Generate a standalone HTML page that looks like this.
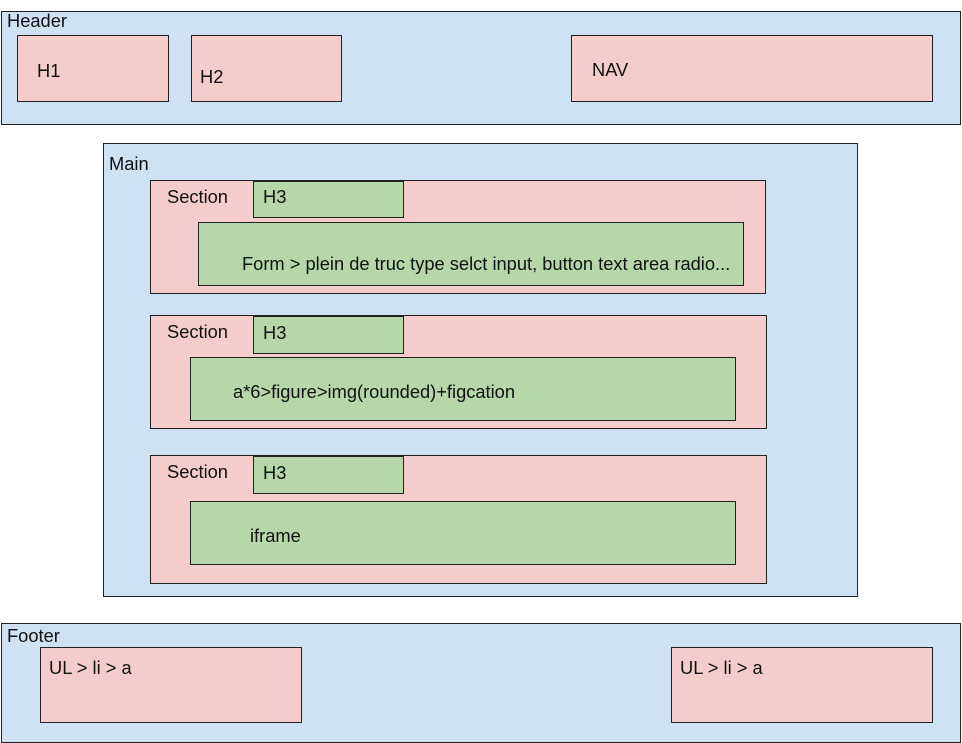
<!DOCTYPE html>
<html><head><style>
body{margin:0;width:962px;height:736px;background:#fff;position:relative;overflow:hidden;font-family:"Liberation Sans",Arial,sans-serif;font-size:18.3px;line-height:21px;color:#111}
.b{position:absolute;box-sizing:border-box;border:1px solid #222}
.bl{background:#cfe2f3}.pk{background:#f4cccc}.gr{background:#b6d7a8}
.t{position:absolute;white-space:nowrap}
</style></head><body>
<div class="b bl" style="left:1px;top:11px;width:960px;height:114px"></div>
<div class="t" style="left:7px;top:10px">Header</div>
<div class="b pk" style="left:17px;top:35px;width:152px;height:67px"></div>
<div class="t" style="left:37px;top:60px">H1</div>
<div class="b pk" style="left:191px;top:35px;width:151px;height:67px"></div>
<div class="t" style="left:200px;top:66px">H2</div>
<div class="b pk" style="left:571px;top:35px;width:362px;height:67px"></div>
<div class="t" style="left:592px;top:59px">NAV</div>

<div class="b bl" style="left:103px;top:143px;width:755px;height:454px"></div>
<div class="t" style="left:109px;top:153px">Main</div>

<div class="b pk" style="left:150px;top:180px;width:616px;height:114px"></div>
<div class="t" style="left:167px;top:186px">Section</div>
<div class="b gr" style="left:253px;top:181px;width:151px;height:37px"></div>
<div class="t" style="left:263px;top:186px">H3</div>
<div class="b gr" style="left:198px;top:222px;width:546px;height:64px"></div>
<div class="t" style="left:242px;top:253px">Form &gt; plein de truc type selct input, button text area radio...</div>

<div class="b pk" style="left:150px;top:315px;width:617px;height:114px"></div>
<div class="t" style="left:167px;top:321px">Section</div>
<div class="b gr" style="left:253px;top:316px;width:151px;height:38px"></div>
<div class="t" style="left:263px;top:322px">H3</div>
<div class="b gr" style="left:190px;top:357px;width:546px;height:64px"></div>
<div class="t" style="left:233px;top:381px">a*6&gt;figure&gt;img(rounded)+figcation</div>

<div class="b pk" style="left:150px;top:455px;width:617px;height:129px"></div>
<div class="t" style="left:167px;top:461px">Section</div>
<div class="b gr" style="left:253px;top:456px;width:151px;height:38px"></div>
<div class="t" style="left:263px;top:462px">H3</div>
<div class="b gr" style="left:190px;top:501px;width:546px;height:64px"></div>
<div class="t" style="left:250px;top:525px">iframe</div>

<div class="b bl" style="left:1px;top:623px;width:960px;height:120px"></div>
<div class="t" style="left:7px;top:625px">Footer</div>
<div class="b pk" style="left:40px;top:647px;width:262px;height:76px"></div>
<div class="t" style="left:49px;top:657px">UL &gt; li &gt; a</div>
<div class="b pk" style="left:671px;top:647px;width:262px;height:76px"></div>
<div class="t" style="left:680px;top:657px">UL &gt; li &gt; a</div>
</body></html>
